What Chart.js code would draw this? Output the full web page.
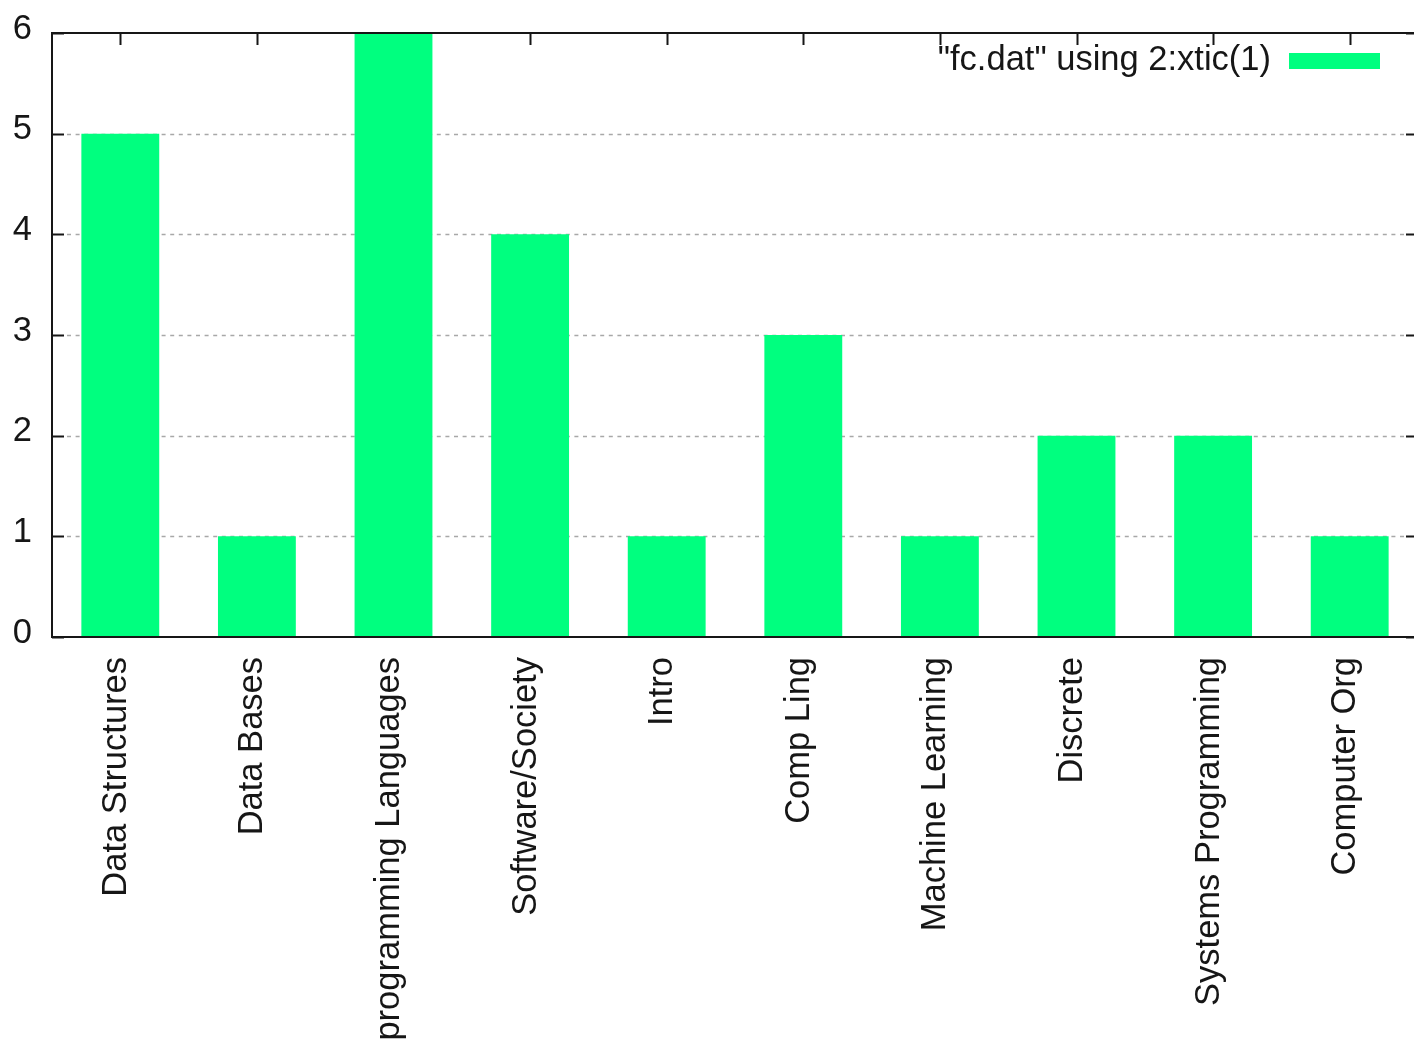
<!DOCTYPE html>
<html>
<head>
<meta charset="utf-8">
<title>fc.dat</title>
<script src="https://cdn.jsdelivr.net/npm/chart.js@4/dist/chart.umd.min.js"></script>
<style>
    html, body { margin: 0; padding: 0; background: #fff; overflow: hidden; }
    #wrap { width: 1420px; height: 1050px; position: relative; }
</style>
</head>
<body>
<div id="wrap"><canvas id="fcChart"></canvas></div>
<script>
// course counts from fc.dat (column 1 = xtic label, column 2 = value)
const courses = [
    'Data Structures', 'Data Bases', 'programming Languages', 'Software/Society', 'Intro',
    'Comp Ling', 'Machine Learning', 'Discrete', 'Systems Programming', 'Computer Org'
];
const counts = [5, 1, 6, 4, 1, 3, 1, 2, 2, 1];
const yTicks = [0, 1, 2, 3, 4, 5, 6];
const seriesLabel = '"fc.dat" using 2:xtic(1)';

const FONT = "'Liberation Sans', Arial, sans-serif";
const BAR_COLOR = '#00ff7f';
const INK = '#161616';

// gnuplot-ish frame: inward ticks, dashed grid, border on top of the boxes
const gnuplotFrame = {
    id: 'gnuplotFrame',
    beforeDatasetsDraw(chart) {
        const { ctx, chartArea: a, scales: { x, y } } = chart;
        const tl = 12;
        ctx.save();

        // dashed horizontal grid
        ctx.strokeStyle = '#a8a8a8';
        ctx.lineWidth = 1.5;
        ctx.setLineDash([4, 4.6]);
        yTicks.forEach(v => {
            if (v === 0 || v === 6) return;
            const py = Math.round(y.getPixelForValue(v)) + 0.5;
            ctx.beginPath();
            ctx.moveTo(a.left + tl + 3, py);
            ctx.lineTo(a.right - tl, py);
            ctx.stroke();
        });
        ctx.setLineDash([]);

        // tick marks (y on both sides, x on top and bottom)
        ctx.strokeStyle = INK;
        ctx.lineWidth = 2;
        ctx.beginPath();
        yTicks.forEach(v => {
            const py = Math.round(y.getPixelForValue(v)) + 0.5;
            ctx.moveTo(a.left, py); ctx.lineTo(a.left + tl, py);
            ctx.moveTo(a.right, py); ctx.lineTo(a.right - tl, py);
        });
        courses.forEach((c, i) => {
            const px = Math.round(x.getPixelForValue(i)) + 0.5;
            ctx.moveTo(px, a.top); ctx.lineTo(px, a.top + tl);
            ctx.moveTo(px, a.bottom); ctx.lineTo(px, a.bottom - tl);
        });
        ctx.stroke();
        ctx.restore();
    },
    afterDatasetsDraw(chart) {
        const { ctx, chartArea: a } = chart;
        ctx.save();
        ctx.strokeStyle = INK;
        ctx.lineWidth = 2;
        ctx.strokeRect(a.left, a.top, a.right - a.left, a.bottom - a.top);

        // key, top right inside the plot
        const ds = chart.data.datasets[0];
        ctx.font = '34.5px ' + FONT;
        ctx.fillStyle = INK;
        ctx.textAlign = 'right';
        ctx.textBaseline = 'middle';
        ctx.fillText(ds.label, 1271, 60);
        ctx.fillStyle = ds.backgroundColor;
        ctx.fillRect(1289, 53, 91, 16);
        ctx.restore();
    }
};

new Chart(document.getElementById('fcChart'), {
    type: 'bar',
    data: {
        labels: courses,
        datasets: [{
            label: seriesLabel,
            data: counts,
            backgroundColor: BAR_COLOR,
            borderWidth: 0,
            barPercentage: 0.57,
            categoryPercentage: 1.0
        }]
    },
    options: {
        responsive: true,
        maintainAspectRatio: false,
        animation: false,
        layout: { padding: { top: 33, right: 2, left: 0, bottom: 0 } },
        plugins: {
            legend: { display: false },
            tooltip: { enabled: false }
        },
        scales: {
            x: {
                offset: true,
                grid: { display: false, drawTicks: false },
                border: { display: false },
                ticks: {
                    autoSkip: false,
                    minRotation: 90,
                    maxRotation: 90,
                    padding: 20,
                    labelOffset: -4,
                    color: INK,
                    font: { family: FONT, size: 34.5 }
                },
                afterFit(scale) { scale.height = 413; }
            },
            y: {
                min: 0,
                max: 6,
                grid: { display: false, drawTicks: false },
                border: { display: false },
                afterBuildTicks(scale) { scale.ticks = yTicks.map(v => ({ value: v })); },
                ticks: {
                    padding: 20,
                    labelOffset: -4,
                    color: INK,
                    font: { family: FONT, size: 34.5, lineHeight: 0.8 }
                },
                afterFit(scale) {
                    scale.width = 52;
                    scale.paddingTop = 0;
                    scale.paddingBottom = 0;
                }
            }
        }
    },
    plugins: [gnuplotFrame]
});
</script>
</body>
</html>
